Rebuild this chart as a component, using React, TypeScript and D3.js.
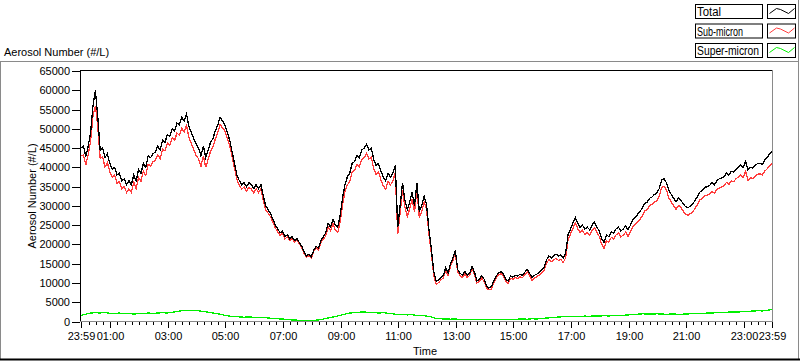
import React from "react";
import * as d3 from "d3";

// ---- data (minutes after 23:59 of the previous day, sampled every 5 min) ----
const totalValues = [
  45000, 45500, 42800, 45500, 49000, 56000, 60000, 53000, 44500, 45000,
  42500, 43500, 41000, 39500, 40000, 38000, 38500, 36500, 37000, 35500,
  36500, 35500, 38000, 36500, 39500, 38500, 41000, 40000, 43000, 42500,
  43500, 44000, 45500, 44500, 47000, 46500, 48500, 48000, 50000, 49500,
  51500, 51000, 53000, 52000, 53800, 50500, 49000, 47500, 46000, 45000,
  43000, 45500, 42500, 44500, 46500, 47500, 49500, 51000, 53000, 52000,
  51000, 49000, 47000, 44000, 41000, 38000, 36500, 35500, 36000, 35000,
  36000, 35500, 34500, 35500, 34500, 35500, 32500, 30000, 29000, 28000,
  26500, 25000, 24000, 23000, 23500, 22000, 22500, 21500, 22000, 21000,
  21500, 20500, 19500, 18000, 17000, 17500, 16800, 18500, 19500, 19000,
  21000, 22000, 23000, 25500, 24500, 26500, 25000, 24500, 27500, 32000,
  35500, 37500, 38500, 41000, 41500, 43000, 42500, 44500, 45000, 46000,
  44500, 45000, 42000, 40500, 41000, 39000, 37500, 36500, 38500, 37500,
  38500, 40500, 24500, 30000, 36000, 31500, 29000, 31000, 33500, 30000,
  36000, 28500, 30000, 32500, 30500, 24000, 19000, 13000, 10500, 10800,
  11500, 12000, 13900, 12600, 15000, 16500, 18500, 13500, 12500, 12000,
  13000, 12000, 12500, 14200, 12800, 10500, 11000, 11800, 11000, 9200,
  8700, 9000, 10500, 11800, 12500, 13000, 12400, 11000, 10500, 11800,
  11500, 12000, 11800, 12300, 12000, 12800, 13500, 12500, 11300, 12000,
  12300, 12800, 13500, 14000, 16000, 17000, 16500, 17000, 17500, 17000,
  17300, 16500, 17800, 22500, 24000, 25500, 27000, 25500, 24300, 25000,
  24000, 24500, 23800, 25000, 25800, 24500, 23500, 21500, 20500, 22500,
  22000, 23300, 23000, 24000, 24500, 23500, 24000, 24800, 23800, 25000,
  26400, 27000, 27800, 28500, 29500, 30700, 31000, 32000, 32300, 33000,
  33300, 34500, 36700, 37000, 36000, 34000, 33000, 32000, 31000, 32000,
  31500, 30500, 29800, 29500, 30000, 30500, 31500, 32500, 33600, 34000,
  34800, 35000, 35300, 36000, 35500, 36500, 37000, 37300, 37500, 38500,
  38000, 39000, 38800, 39500, 40000, 40600, 40000, 41500, 39300, 40000,
  39800, 40500, 41000, 41100, 40800, 41900, 42500, 43500, 44000,
];

const subMicronValues = [
  43000, 43200, 40600, 43300, 46800, 53500, 56000, 50500, 42300, 42700,
  40100, 41200, 38900, 37400, 38000, 35900, 36300, 34400, 35000, 33500,
  34400, 33500, 36100, 34500, 37400, 36450, 39000, 37900, 40800, 40350,
  41400, 41850, 43300, 42250, 44700, 44250, 46300, 45700, 47600, 47000,
  48900, 48300, 50200, 49150, 50900, 47650, 46200, 44650, 43100, 42200,
  40300, 42900, 40000, 42100, 44200, 45300, 47400, 49000, 51100, 50250,
  49400, 47500, 45600, 42650, 39700, 36750, 35300, 34350, 34900, 33850,
  34800, 34350, 33400, 34450, 33500, 34450, 31400, 29000, 28100, 27150,
  25700, 24250, 23300, 22300, 22850, 21400, 22000, 21050, 21600, 20600,
  21150, 20150, 19200, 17700, 16650, 17150, 16500, 18200, 19150, 18600,
  20500, 21350, 22200, 24600, 23500, 25350, 23700, 23050, 25900, 30250,
  33600, 35450, 36300, 38750, 39200, 40650, 40100, 42050, 42500, 43600,
  42200, 42650, 39600, 38200, 38800, 36750, 35200, 34300, 36400, 35450,
  36500, 38600, 22700, 28150, 34100, 29700, 27300, 29250, 31700, 28350,
  34500, 26950, 28400, 31000, 29100, 22700, 17800, 12000, 9700, 10050,
  10800, 11300, 13250, 11950, 14400, 15850, 17850, 12900, 11950, 11400,
  12400, 11400, 11950, 13650, 12300, 9950, 10400, 11200, 10450, 8650,
  8200, 8450, 9950, 11250, 12000, 12450, 11850, 10400, 9900, 11200,
  10950, 11400, 11200, 11650, 11350, 12150, 12900, 11850, 10600, 11300,
  11650, 12050, 12700, 13150, 15100, 16050, 15500, 15950, 16400, 15850,
  16100, 15300, 16550, 21200, 22700, 24150, 25650, 24150, 23000, 23650,
  22600, 23100, 22450, 23600, 24350, 23050, 22100, 20050, 19000, 21000,
  20550, 21800, 21450, 22450, 23000, 21950, 22400, 23150, 22100, 23250,
  24600, 25150, 25900, 26550, 27500, 28700, 29050, 30050, 30400, 31050,
  31300, 32500, 34750, 35100, 34150, 32100, 31050, 30050, 29100, 30100,
  29650, 28600, 27850, 27500, 28000, 28450, 29400, 30400, 31550, 31900,
  32650, 32800, 33100, 33800, 33250, 34200, 34650, 34950, 35200, 36100,
  35550, 36500, 36300, 37000, 37550, 38050, 37400, 38900, 36650, 37300,
  37100, 37750, 38200, 38300, 38050, 39050, 39600, 40500, 40900,
];

// sampled every 10 min
const superMicronValues = [
  1600, 1900, 2200, 2300, 2200, 2400, 2100, 2000, 2200, 2000,
  2100, 1900, 2100, 2000, 2200, 2100, 2200, 2300, 2200, 2400,
  2600, 2800, 2900, 2800, 2900, 2700, 2500, 2300, 2100, 1900,
  1600, 1400, 1300, 1200, 1100, 1200, 1100, 1000, 1100, 900,
  800, 700, 650, 500, 400, 350, 300, 350, 300, 350,
  500, 800, 1000, 1300, 1600, 1900, 2200, 2300, 2400, 2500,
  2300, 2400, 2200, 2300, 2100, 2000, 1800, 1900, 1700, 1800,
  1500, 1600, 1400, 1200, 800, 700, 650, 600, 650, 550,
  600, 550, 500, 600, 550, 500, 550, 500, 550, 600,
  550, 600, 650, 600, 700, 650, 800, 900, 1000, 1100,
  1200, 1250, 1300, 1350, 1300, 1400, 1350, 1450, 1400, 1500,
  1450, 1550, 1500, 1600, 1700, 1800, 1900, 2000, 1950, 1900,
  2000, 1950, 1850, 1950, 1900, 1850, 1950, 2000, 2100, 2050,
  2150, 2200, 2250, 2350, 2300, 2450, 2500, 2450, 2600, 2650,
  2700, 2800, 2750, 2900, 3100,
];

const xMajorMinutes = [-1, 60, 180, 300, 420, 540, 660, 780, 900, 1020, 1140, 1260, 1380, 1439];
const xMajorLabels = ["23:59", "01:00", "03:00", "05:00", "07:00", "09:00", "11:00", "13:00", "15:00", "17:00", "19:00", "21:00", "23:00", "23:59"];
const yTickValues = [0, 5000, 10000, 15000, 20000, 25000, 30000, 35000, 40000, 45000, 50000, 55000, 60000, 65000];

const seriesNames = ["Total", "Sub-micron", "Super-micron"];
const seriesColors = ["#000000", "#ff3c3c", "#00f000"];
const legendTextWidths = [24, 46, 62];

const W = 800;
const H = 361;
const PL = 81, PR = 772, PT = 71, PB = 321.5;
const FONT = "'Liberation Sans', Arial, sans-serif";

export default function App() {
  const x = d3.scaleLinear().domain([-1, 1439]).range([PL, PR]);
  const y = d3.scaleLinear().domain([0, 65000]).range([PB, PT]);

  const t5 = (i: number) => -1 + 5 * i;
  const t10 = (i: number) => -1 + 10 * i;

  const line5 = d3.line<number>().x((_, i) => x(t5(i))).y((d) => y(d));
  const line10 = d3.line<number>().x((_, i) => x(t10(i))).y((d) => y(d));

  const minorTicks = d3.range(15, 1439, 15).filter((m) => !xMajorMinutes.includes(m));

  const legendIcon = (x0: number, y0: number) =>
    `M${x0 + 2},${y0 + 9} L${x0 + 9},${y0 + 4} L${x0 + 13},${y0 + 5} L${x0 + 21},${y0 + 9} L${x0 + 27},${y0 + 4}`;

  return (
    <div style={{ position: "absolute", left: 0, top: 0 }}>
      <svg width={W} height={H} style={{ display: "block", background: "#fff" }} fontFamily={FONT} fontSize={11}>
        {/* outer panel */}
        <line x1={0} x2={799} y1={61.5} y2={61.5} stroke="#8a8a8a" />
        <line x1={0.5} x2={0.5} y1={61} y2={359} stroke="#8a8a8a" />
        <line x1={798.5} x2={798.5} y1={0} y2={360} stroke="#8a8a8a" />
        <line x1={0} x2={800} y1={359.5} y2={359.5} stroke="#000" strokeWidth={2} />

        <text x={4} y={56} fill="#000">Aerosol Number (#/L)</text>

        {/* legend */}
        {seriesNames.map((name, k) => {
          const y0 = 4 + 19.5 * k;
          return (
            <g key={name}>
              <rect x={695.5} y={y0 + 0.5} width={67} height={14} fill="#fff" stroke="#000" />
              <text x={697} y={y0 + 12} fill="#000" fontSize={12.5} textLength={legendTextWidths[k]} lengthAdjust="spacingAndGlyphs">{name}</text>
              <rect x={767.5} y={y0 + 0.5} width={28} height={14} fill="#fff" stroke="#000" />
              <path d={legendIcon(767.5, y0 + 0.5)} fill="none" stroke={seriesColors[k]} strokeWidth={1} />
            </g>
          );
        })}

        {/* plot area */}
        <defs>
          <clipPath id="plotclip">
            <rect x={PL - 1} y={PT - 1} width={PR - PL + 1} height={PB - PT + 1} />
          </clipPath>
        </defs>
        <g clipPath="url(#plotclip)" shapeRendering="crispEdges">
          <path d={line5(subMicronValues) || ""} fill="none" stroke={seriesColors[1]} strokeWidth={1.3} />
          <path d={line5(totalValues) || ""} fill="none" stroke={seriesColors[0]} strokeWidth={1.3} />
          <path d={line10(superMicronValues) || ""} fill="none" stroke={seriesColors[2]} strokeWidth={1.3} />
        </g>

        {/* frame */}
        <line x1={80.5} x2={80.5} y1={70} y2={322} stroke="#000" />
        <line x1={80} x2={772} y1={70.5} y2={70.5} stroke="#000" />
        <line x1={772.5} x2={772.5} y1={70} y2={322} stroke="#8a8a8a" />
        <line x1={80} x2={773} y1={321.5} y2={321.5} stroke="#8a8a8a" />

        {/* y axis */}
        {yTickValues.map((v) => {
          const yy = Math.round(y(v)) + 0.5;
          return (
            <g key={v}>
              <line x1={72} x2={80} y1={yy} y2={yy} stroke="#000" />
              <text x={70} y={yy} dy="0.35em" textAnchor="end" fill="#000">{v}</text>
            </g>
          );
        })}
        <text transform="translate(36,196) rotate(-90)" textAnchor="middle" fill="#000">Aerosol Number (#/L)</text>

        {/* x axis */}
        {minorTicks.map((m) => {
          const xx = Math.round(x(m)) + 0.5;
          return <line key={m} x1={xx} x2={xx} y1={322} y2={325} stroke="#000" />;
        })}
        {xMajorMinutes.map((m, i) => {
          const xx = Math.round(x(m)) + 0.5;
          return (
            <g key={m}>
              <line x1={xx} x2={xx} y1={322} y2={328} stroke="#000" />
              <text x={xx} y={340} textAnchor="middle" fill="#000">{xMajorLabels[i]}</text>
            </g>
          );
        })}
        <text x={425} y={355} textAnchor="middle" fill="#000">Time</text>
      </svg>
    </div>
  );
}
